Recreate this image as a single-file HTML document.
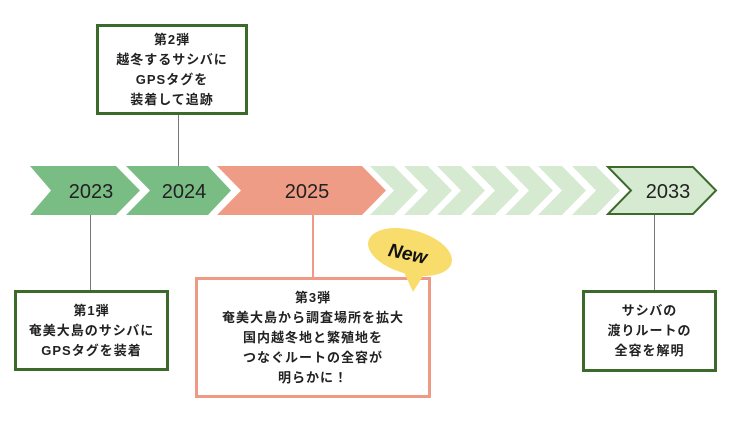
<!DOCTYPE html>
<html><head><meta charset="utf-8"><style>
body{margin:0;width:736px;height:424px;background:#fff;position:relative;overflow:hidden;font-family:"Liberation Sans","Noto Sans CJK JP",sans-serif}
.box{position:absolute;box-sizing:border-box;background:#fff;display:flex;align-items:center;justify-content:center;text-align:center;font-weight:bold;font-size:13px;line-height:20px;letter-spacing:1px;color:#222}
.g{border:3px solid #3b6a2a}
.r{border:3px solid #ee9a85}
.ln{position:absolute;width:1px;background:#777}
</style></head><body>
<svg width="736" height="424" style="position:absolute;left:0;top:0">
<polygon points="30,166 116,166 140,190.5 116,215 30,215 51,190.5" fill="#79bd84"/>
<polygon points="126,166 208,166 231,190.5 208,215 126,215 150,190.5" fill="#79bd84"/>
<polygon points="217,166 362,166 386,190.5 362,215 217,215 241,190.5" fill="#ef9c86"/>
<g fill="#d5ead0">
<polygon points="370,166 394,166 418,190.5 394,215 370,215 394,190.5"/>
<polygon points="404,166 428,166 452,190.5 428,215 404,215 428,190.5"/>
<polygon points="437,166 461,166 485,190.5 461,215 437,215 461,190.5"/>
<polygon points="471,166 495,166 519,190.5 495,215 471,215 495,190.5"/>
<polygon points="505,166 529,166 553,190.5 529,215 505,215 529,190.5"/>
<polygon points="538,166 562,166 586,190.5 562,215 538,215 562,190.5"/>
<polygon points="572,166 596,166 620,190.5 596,215 572,215 596,190.5"/>
</g>
<polygon points="608,167 693,167 716,190.5 693,214 608,214 631,190.5" fill="#d5ead0" stroke="#3b6a2a" stroke-width="2"/>
<g font-size="20" fill="#222" text-anchor="middle" font-family="Liberation Sans, sans-serif">
<text x="91" y="198">2023</text><text x="184" y="198">2024</text><text x="307" y="198">2025</text><text x="668" y="198">2033</text>
</g>
<line x1="313" y1="215" x2="313" y2="278" stroke="#ee9a85" stroke-width="2"/>
</svg>
<div class="ln" style="left:178px;top:114px;height:52px"></div>
<div class="ln" style="left:90px;top:215px;height:76px"></div>
<div class="ln" style="left:654px;top:215px;height:76px"></div>
<div class="box g" style="left:96px;top:24px;width:152px;height:91px">第2弾<br>越冬するサシバに<br>GPSタグを<br>装着して追跡</div>
<div class="box g" style="left:14px;top:290px;width:155px;height:81px">第1弾<br>奄美大島のサシバに<br>GPSタグを装着</div>
<div class="box r" style="left:195px;top:277px;width:236px;height:121px">第3弾<br>奄美大島から調査場所を拡大<br>国内越冬地と繁殖地を<br>つなぐルートの全容が<br>明らかに！</div>
<div class="box g" style="left:582px;top:290px;width:135px;height:82px">サシバの<br>渡りルートの<br>全容を解明</div>
<svg width="736" height="424" style="position:absolute;left:0;top:0">
<path d="M413,292 L402,268 L428,268 Z" fill="#f8dc6c"/>
<ellipse cx="410" cy="252" rx="43" ry="22" transform="rotate(15 410 252)" fill="#f8dc6c"/>
<text x="408" y="260" font-size="19" font-weight="bold" font-style="italic" text-anchor="middle" fill="#111" font-family="Liberation Sans, sans-serif" transform="rotate(12 408 253)">New</text>
</svg>
</body></html>
